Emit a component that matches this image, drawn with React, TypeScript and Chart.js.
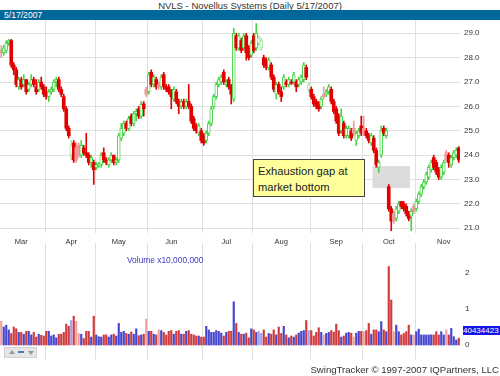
import React, { useEffect, useRef } from 'react';
import { Chart, registerables } from 'chart.js';

Chart.register(...registerables);

const opens = [
  28.3, 28.2, 28.3, 28.6, 28.7, 27.7, 27.5, 26.8, 27.1, 26.9,
  27.1, 26.7, 26.9, 27.1, 26.8, 26.7, 27.0, 26.8, 26.6, 26.4,
  26.6, 26.7, 27.0, 27.1, 26.7, 26.4, 25.9, 25.1, 24.0, 24.5,
  24.3, 24.4, 24.0, 24.3, 24.1, 24.0, 23.7, 23.7, 23.5, 23.6,
  23.6, 24.1, 23.8, 23.6, 23.8, 24.0, 23.7, 23.8, 24.7, 24.9,
  25.3, 25.1, 25.6, 25.3, 25.7, 25.9, 25.6, 26.1, 26.7, 26.6,
  27.4, 26.9, 27.1, 26.9, 26.8, 27.3, 26.8, 26.8, 26.6, 26.3,
  26.6, 26.2, 26.0, 26.2, 26.0, 26.2, 26.0, 25.5, 25.2, 24.9,
  25.0, 24.8, 24.6, 24.9, 25.3, 26.0, 26.4, 26.9, 27.0, 27.4,
  26.9, 27.1, 26.8, 26.3, 28.9, 28.4, 28.7, 28.4, 28.9, 28.4,
  28.1, 28.9, 28.4, 28.6, 28.4, 28.0, 27.9, 27.6, 27.7, 27.2,
  26.5, 26.9, 26.6, 26.8, 27.0, 26.9, 27.0, 27.0, 27.0, 26.9,
  27.0, 27.1, 27.6, 26.7, 26.7, 26.4, 26.2, 26.1, 26.0, 26.5,
  26.5, 26.6, 26.7, 26.2, 25.9, 25.6, 25.0, 25.3, 24.8, 24.8,
  25.0, 25.1, 24.6, 24.8, 25.2, 25.1, 25.0, 24.8, 24.5, 24.7,
  24.2, 23.5, 24.0, 25.1, 24.8, 22.7, 21.8, 21.6, 21.4, 21.7,
  22.1, 22.0, 21.9, 21.6, 21.5, 21.9, 21.8, 22.1, 22.4, 22.7,
  22.9, 23.1, 23.4, 23.9, 23.7, 23.4, 23.1, 23.3, 24.1, 24.0,
  23.6, 23.9, 24.0, 24.3,
];

const highs = [
  28.5, 28.5, 28.7, 28.75, 28.75, 27.8, 27.6, 27.2, 27.2, 27.3,
  27.1, 27.0, 27.3, 27.2, 27.1, 27.1, 27.2, 26.9, 26.8, 26.7,
  26.8, 27.1, 27.2, 27.2, 26.8, 26.5, 26.0, 25.2, 24.6, 24.6,
  24.5, 24.5, 24.6, 24.4, 24.9, 24.1, 24.0, 23.8, 23.7, 23.7,
  24.1, 24.3, 23.9, 23.9, 24.1, 24.0, 23.9, 24.9, 25.3, 25.4,
  25.4, 25.6, 25.7, 25.8, 25.9, 26.0, 26.2, 26.2, 26.8, 27.4,
  27.5, 27.3, 27.2, 27.0, 27.3, 27.4, 26.9, 26.9, 26.7, 26.8,
  26.7, 26.3, 26.3, 26.3, 26.3, 26.9, 26.1, 25.6, 25.3, 25.3,
  25.1, 24.9, 25.0, 25.4, 26.0, 26.5, 27.0, 27.2, 27.3, 27.5,
  27.1, 27.2, 26.9, 29.2, 29.0, 29.0, 28.8, 29.0, 29.0, 28.5,
  28.7, 29.0, 29.4, 28.9, 28.8, 28.1, 28.0, 28.0, 27.8, 27.3,
  27.0, 27.0, 26.8, 27.3, 27.1, 27.2, 27.1, 27.4, 27.1, 27.2,
  27.3, 27.8, 27.7, 27.0, 26.8, 26.5, 26.3, 26.2, 26.4, 26.8,
  26.7, 26.9, 26.8, 26.3, 26.0, 25.7, 25.9, 25.4, 25.2, 25.2,
  25.1, 25.4, 25.0, 25.1, 25.6, 25.6, 25.1, 24.9, 24.9, 24.8,
  24.3, 23.8, 25.2, 25.2, 25.1, 22.8, 21.9, 21.7, 21.9, 22.1,
  22.1, 22.1, 22.0, 21.7, 21.8, 22.0, 22.2, 22.5, 22.8, 23.0,
  23.3, 23.6, 23.8, 24.0, 23.8, 23.5, 23.6, 23.8, 24.2, 24.1,
  24.0, 24.2, 24.3, 24.35,
];

const lows = [
  28.0, 28.1, 28.2, 28.5, 27.6, 27.3, 26.8, 26.7, 26.7, 26.8,
  26.5, 26.6, 26.8, 26.8, 26.5, 26.6, 26.7, 26.4, 26.3, 26.2,
  26.5, 26.6, 26.8, 26.6, 26.4, 25.8, 25.0, 24.7, 23.8, 23.7,
  23.7, 23.9, 23.9, 24.0, 23.9, 23.6, 23.5, 22.8, 23.4, 23.5,
  23.5, 23.7, 23.6, 23.5, 23.7, 23.6, 23.6, 23.7, 24.6, 24.8,
  25.0, 25.0, 25.2, 25.2, 25.4, 25.5, 25.5, 25.6, 26.4, 26.5,
  26.8, 26.8, 26.7, 26.7, 26.7, 26.7, 26.6, 26.5, 25.9, 26.2,
  26.1, 25.7, 25.9, 25.9, 25.9, 25.9, 25.3, 25.0, 24.9, 24.8,
  24.5, 24.4, 24.5, 24.8, 25.2, 25.9, 26.3, 26.8, 26.9, 26.9,
  26.8, 26.7, 26.1, 26.2, 28.3, 28.3, 28.2, 28.3, 27.9, 27.9,
  28.0, 28.2, 28.3, 28.5, 28.3, 27.6, 27.5, 27.5, 27.1, 26.6,
  26.3, 26.5, 26.2, 26.7, 26.8, 26.8, 26.9, 26.9, 26.6, 26.8,
  26.9, 27.0, 27.1, 26.6, 26.3, 26.0, 25.9, 25.8, 25.9, 26.3,
  26.4, 26.5, 26.1, 25.7, 25.3, 24.8, 24.9, 24.7, 24.7, 24.7,
  24.6, 24.8, 24.4, 24.7, 24.8, 24.8, 24.7, 24.5, 24.4, 24.1,
  23.5, 23.3, 23.9, 24.8, 24.7, 21.7, 20.9, 21.2, 21.3, 21.6,
  21.8, 21.7, 21.5, 21.3, 20.9, 21.6, 21.7, 22.0, 22.3, 22.6,
  22.8, 23.0, 23.3, 23.4, 23.2, 23.0, 23.0, 23.2, 23.7, 23.5,
  23.5, 23.8, 23.9, 23.7,
];

const closes = [
  28.2, 28.4, 28.6, 28.7, 27.7, 27.5, 26.9, 27.1, 26.8, 27.1,
  26.6, 26.9, 27.1, 26.9, 26.6, 27.0, 26.8, 26.5, 26.4, 26.6,
  26.7, 27.0, 27.1, 26.7, 26.5, 25.9, 25.1, 24.8, 24.4, 23.8,
  23.8, 24.0, 24.4, 24.1, 24.0, 23.7, 23.9, 23.4, 23.6, 23.65,
  24.0, 23.8, 23.7, 23.8, 24.0, 23.7, 23.8, 24.8, 25.1, 25.3,
  25.1, 25.5, 25.3, 25.7, 25.8, 25.6, 26.1, 25.9, 26.5, 27.3,
  26.9, 27.2, 26.8, 26.8, 27.2, 26.8, 26.7, 26.6, 26.4, 26.7,
  26.2, 26.0, 26.2, 26.0, 26.2, 26.0, 25.4, 25.1, 25.0, 25.2,
  24.6, 24.5, 24.9, 25.3, 25.9, 26.4, 26.9, 27.1, 27.2, 27.0,
  27.0, 26.8, 26.5, 29.0, 28.4, 28.9, 28.3, 28.9, 28.2, 28.0,
  28.6, 28.3, 29.0, 28.8, 28.7, 27.7, 27.6, 27.9, 27.2, 26.7,
  26.9, 26.6, 26.4, 27.2, 26.9, 27.1, 26.95, 27.3, 26.8, 27.1,
  27.2, 27.7, 27.2, 26.9, 26.4, 26.1, 26.0, 25.9, 26.3, 26.4,
  26.6, 26.8, 26.2, 25.8, 25.4, 24.9, 25.6, 24.8, 25.1, 25.1,
  24.7, 24.9, 24.9, 25.0, 24.9, 24.9, 24.8, 24.6, 24.8, 24.2,
  23.6, 23.7, 25.0, 24.9, 25.0, 21.8, 21.3, 21.3, 21.8, 22.0,
  21.9, 21.8, 21.6, 21.4, 21.7, 21.7, 22.1, 22.4, 22.7, 22.9,
  23.2, 23.5, 23.7, 23.5, 23.3, 23.1, 23.5, 23.7, 23.8, 23.7,
  23.9, 24.1, 24.2, 23.8,
];

// volume in units of 10,000,000 shares
const volumes = [
  0.66, 0.5, 0.55, 0.42, 0.32, 0.5, 0.45, 0.35, 0.35, 0.3,
  0.38, 0.38, 0.28, 0.35, 0.22, 0.3, 0.27, 0.25, 0.38, 0.38,
  0.25, 0.28, 0.2, 0.3, 0.3, 0.35, 0.58, 0.52, 0.68, 0.8,
  0.66, 0.32, 0.3, 0.18, 0.38, 0.38, 0.22, 0.8, 0.28, 0.23,
  0.22, 0.28, 0.28, 0.22, 0.28, 0.3, 0.25, 0.6, 0.35, 0.38,
  0.32, 0.3, 0.36, 0.3, 0.45, 0.26, 0.28, 0.3, 0.72, 0.38,
  0.38, 0.3, 0.28, 0.42, 0.4, 0.35, 0.28, 0.38, 0.4, 0.3,
  0.38, 0.4, 0.3, 0.3, 0.38, 0.4, 0.3, 0.28, 0.25, 0.25,
  0.22, 0.22, 0.52, 0.42, 0.35, 0.35, 0.4, 0.38, 0.33, 0.25,
  0.35, 0.38, 0.38, 1.2, 0.6, 0.35, 0.3, 0.3, 0.33, 0.2,
  0.45, 0.42, 0.35, 0.38, 0.32, 0.42, 0.22, 0.32, 0.3, 0.42,
  0.28, 0.5, 0.32, 0.52, 0.28, 0.2, 0.25, 0.22, 0.28, 0.33,
  0.38, 0.4, 0.68, 0.4, 0.4, 0.25, 0.35, 0.48, 0.35, 0.28,
  0.32, 0.35, 0.4, 0.36, 0.58, 0.4, 0.22, 0.25, 0.33, 0.35,
  0.33, 0.22, 0.33, 0.38, 0.38, 0.37, 0.4, 0.6, 0.3, 0.42,
  0.42, 0.37, 0.65, 0.42, 0.37, 2.18, 1.25, 0.37, 0.55, 0.37,
  0.28, 0.32, 0.37, 0.55, 0.28, 0.28, 0.37, 0.44, 0.28, 0.28,
  0.28, 0.28, 0.28, 0.28, 0.37, 0.28, 0.37, 0.28, 0.42, 0.28,
  0.46, 0.23, 0.14, 0.19,
];

const monthLabels = ['Mar', 'Apr', 'May', 'Jun', 'Jul', 'Aug', 'Sep', 'Oct', 'Nov'];
const monthLabelIndex = [8, 28, 47, 68, 90, 112, 134, 155, 177];
const monthStartIndex = [18, 38, 59, 81, 101, 124, 145, 166];
const priceTicks = [21, 22, 23, 24, 25, 26, 27, 28, 29];
const volumeTicks = [0, 1, 2];
const gap = { startIndex: 149, endIndex: 163, top: 23.55, bottom: 22.65 };

const FONT = "'Liberation Sans', Arial, Helvetica, sans-serif";
const GRID = '#e0e0e0';

const labels = closes.map((_, i) => String(i));
const isUp = closes.map((c, i) => c >= opens[i]);
const roseFromPrev = closes.map((c, i) => (i === 0 ? true : c >= closes[i - 1]));

const candleEdge = isUp.map((u, i) =>
  u ? (roseFromPrev[i] ? '#45d445' : '#a0e8a0') : roseFromPrev[i] ? '#f09a9a' : '#e00000'
);
const candleFill = isUp.map((u, i) => (u ? '#ffffff' : candleEdge[i]));
const volumeColor = isUp.map((u, i) =>
  u ? (roseFromPrev[i] ? '#4545cf' : '#a0a0ee') : roseFromPrev[i] ? '#f0a0a0' : '#d03a3a'
);

function xScaleOptions(showLabels: boolean, height: number) {
  return {
    type: 'category' as const,
    offset: true,
    grid: {
      offset: true,
      drawTicks: false,
      lineWidth: 1,
      color: (ctx: any) => (monthStartIndex.includes(ctx.index) ? GRID : 'rgba(0,0,0,0)'),
    },
    border: { display: false },
    ticks: {
      display: showLabels,
      autoSkip: false,
      maxRotation: 0,
      minRotation: 0,
      padding: 4,
      color: '#333333',
      font: { size: 7.5, family: FONT },
      callback: (_v: any, i: number) => {
        const k = monthLabelIndex.indexOf(i);
        return k >= 0 ? monthLabels[k] : '';
      },
    },
    afterFit: (s: any) => {
      s.height = height;
      s.paddingLeft = 0;
      s.paddingRight = 0;
    },
  };
}

const gapPlugin = {
  id: 'gapBox',
  beforeDatasetsDraw(chart: any) {
    const { ctx, scales } = chart;
    const x = scales.x;
    const y = scales.y;
    const half = (x.getPixelForValue(1) - x.getPixelForValue(0)) / 2;
    const l = x.getPixelForValue(gap.startIndex) - half;
    const r = x.getPixelForValue(gap.endIndex) + half;
    const t = y.getPixelForValue(gap.top);
    const b = y.getPixelForValue(gap.bottom);
    ctx.save();
    ctx.fillStyle = '#dcdcdc';
    ctx.fillRect(l, t, r - l, b - t);
    ctx.restore();
  },
};

export default function App() {
  const priceRef = useRef<HTMLCanvasElement | null>(null);
  const volRef = useRef<HTMLCanvasElement | null>(null);

  useEffect(() => {
    Chart.defaults.font.family = FONT;
    const price = new Chart(priceRef.current as HTMLCanvasElement, {
      type: 'bar',
      data: {
        labels,
        datasets: [
          {
            data: opens.map((o, i) => [o, closes[i]]) as any,
            backgroundColor: candleFill,
            borderColor: candleEdge,
            borderWidth: isUp.map((u) => (u ? 1 : 0)),
            borderSkipped: false,
            barThickness: 3,
            grouped: false,
            order: 0,
          } as any,
          {
            data: lows.map((l, i) => [l, highs[i]]) as any,
            backgroundColor: candleEdge,
            borderWidth: 0,
            barThickness: 1,
            grouped: false,
            order: 1,
          } as any,
        ],
      },
      options: {
        animation: false,
        responsive: false,
        maintainAspectRatio: false,
        layout: { padding: 0 },
        plugins: { legend: { display: false }, tooltip: { enabled: false } },
        scales: {
          x: xScaleOptions(true, 17) as any,
          y: {
            position: 'right',
            min: 20.807,
            max: 29.545,
            afterBuildTicks: (s: any) => {
              s.ticks = priceTicks.map((v) => ({ value: v }));
            },
            grid: { color: GRID, drawTicks: false, lineWidth: 1 },
            border: { display: false },
            ticks: {
              padding: 4,
              color: '#333333',
              font: { size: 8, family: FONT },
              callback: (v: any) => Number(v).toFixed(1),
            },
            afterFit: (s: any) => {
              s.width = 40;
              s.paddingTop = 0;
              s.paddingBottom = 0;
            },
          } as any,
        },
      },
      plugins: [gapPlugin],
    });

    const vol = new Chart(volRef.current as HTMLCanvasElement, {
      type: 'bar',
      data: {
        labels,
        datasets: [
          {
            data: volumes,
            backgroundColor: volumeColor,
            borderWidth: 0,
            barThickness: 1.5,
            grouped: false,
          } as any,
        ],
      },
      options: {
        animation: false,
        responsive: false,
        maintainAspectRatio: false,
        layout: { padding: 0 },
        plugins: { legend: { display: false }, tooltip: { enabled: false } },
        scales: {
          x: xScaleOptions(false, 0) as any,
          y: {
            position: 'right',
            min: -0.4167,
            max: 2.833,
            afterBuildTicks: (s: any) => {
              s.ticks = volumeTicks.map((v) => ({ value: v }));
            },
            grid: { display: false, drawTicks: false },
            border: { display: false },
            ticks: {
              padding: 5,
              color: '#333333',
              font: { size: 8, family: FONT },
              callback: (v: any) => String(v),
            },
            afterFit: (s: any) => {
              s.width = 40;
              s.paddingTop = 0;
              s.paddingBottom = 0;
            },
          } as any,
        },
      },
    });

    return () => {
      price.destroy();
      vol.destroy();
    };
  }, []);

  const abs = (o: React.CSSProperties): React.CSSProperties => ({ position: 'absolute', ...o });

  return (
    <div
      style={abs({
        left: 0,
        top: 0,
        width: 500,
        height: 376,
        background: '#ffffff',
        overflow: 'hidden',
        fontFamily: FONT,
      })}
    >
      <div
        style={abs({
          left: 0,
          top: 0,
          width: 500,
          textAlign: 'center',
          fontSize: 9.5,
          lineHeight: '11px',
          color: '#333',
          whiteSpace: 'nowrap',
        })}
      >
        NVLS - Novellus Systems (Daily 5/17/2007)
      </div>
      <div
        style={abs({
          left: 0,
          top: 10,
          width: 500,
          height: 10,
          background: '#00679a',
          color: '#ffffff',
          fontSize: 8.6,
          lineHeight: '10px',
          paddingLeft: 4,
          boxSizing: 'border-box',
          zIndex: 2,
        })}
      >
        5/17/2007
      </div>
      <canvas ref={priceRef} width={500} height={230} style={abs({ left: 0, top: 20, width: 500, height: 230 })} />
      <canvas ref={volRef} width={500} height={117} style={abs({ left: 0, top: 243, width: 500, height: 117 })} />
      <div
        style={abs({
          left: 253,
          top: 159,
          width: 112,
          height: 38,
          background: '#ffff9c',
          border: '1px solid #444',
          boxSizing: 'border-box',
          padding: '3px 0 0 4px',
          fontSize: 11.2,
          lineHeight: '16px',
          color: '#222',
          zIndex: 3,
        })}
      >
        Exhaustion gap at
        <br />
        market bottom
      </div>
      <div
        style={abs({
          left: 127,
          top: 255,
          fontSize: 8.4,
          lineHeight: '10px',
          color: '#3a3ac0',
          whiteSpace: 'nowrap',
        })}
      >
        Volume x10,000,000
      </div>
      <div
        style={abs({
          left: 463,
          top: 326,
          width: 37,
          height: 9,
          background: '#1414e6',
          color: '#ffffff',
          fontSize: 8,
          lineHeight: '9px',
          overflow: 'hidden',
          whiteSpace: 'nowrap',
        })}
      >
        40434423
      </div>
      <div
        style={abs({
          left: 4,
          top: 347,
          width: 33,
          height: 11,
          background: '#e6e6e6',
          border: '1px solid #d0d0d0',
          boxSizing: 'border-box',
        })}
      >
        <div style={abs({ left: 4, top: 2, width: 0, height: 0, borderLeft: '3px solid transparent', borderRight: '3px solid transparent', borderBottom: '4px solid #999' })} />
        <div style={abs({ left: 13, top: 3, width: 6, height: 2, background: '#4f78b8' })} />
        <div style={abs({ left: 23, top: 3, width: 0, height: 0, borderLeft: '3px solid transparent', borderRight: '3px solid transparent', borderTop: '4px solid #999' })} />
      </div>
      <div
        style={abs({
          right: 1,
          top: 364,
          fontSize: 9.6,
          lineHeight: '12px',
          color: '#333',
          whiteSpace: 'nowrap',
        })}
      >
        SwingTracker © 1997-2007 IQPartners, LLC
      </div>
    </div>
  );
}
